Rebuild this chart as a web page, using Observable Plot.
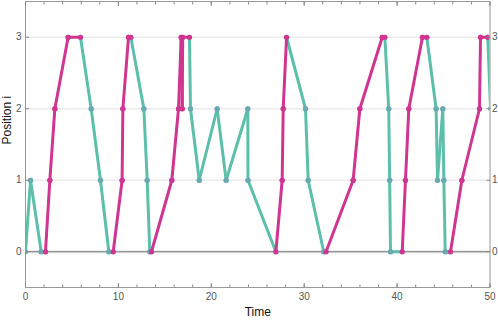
<!DOCTYPE html>
<html>
<head>
<meta charset="utf-8">
<script src="https://cdn.jsdelivr.net/npm/d3@7"></script>
<script src="https://cdn.jsdelivr.net/npm/@observablehq/plot@0.6"></script>
<style>
  html, body { margin: 0; padding: 0; background: #fff; }
  #chart svg { display: block; font-family: "Liberation Sans", Arial, sans-serif; }
</style>
</head>
<body>
<div id="chart"></div>
<script>
// Path of the walk: time, position, and the phase of the step leaving each point
const time = [0, 0.54, 1.69, 2.15, 2.62, 3.16, 4.59, 5.92, 7.07, 8.07,
  8.97, 9.44, 10.4, 10.48, 11.09, 11.34, 12.74, 13.1, 13.38, 13.56,
  15.75, 16.47, 16.76, 16.87, 16.92, 17.65, 17.76, 18.7, 20.63, 21.6,
  23.93, 23.95, 26.95, 27.63, 27.74, 28.1, 30.14, 30.43, 32.1, 32.35,
  35.27, 35.99, 38.4, 38.68, 39.1, 39.2, 39.29, 40.55, 40.9, 41.26,
  42.73, 43.2, 44.2, 44.35, 44.92, 45.03, 45.18, 45.75, 46.97, 48.87,
  48.98, 49.76, 50.06];
const position = [0, 1, 0, 0, 1, 2, 3, 3, 2, 1,
  0, 0, 1, 2, 3, 3, 2, 1, 0, 0,
  1, 2, 3, 2, 3, 3, 2, 1, 2, 1,
  2, 1, 0, 1, 2, 3, 2, 1, 0, 0,
  1, 2, 3, 3, 2, 1, 0, 0, 1, 2,
  3, 3, 2, 1, 2, 1, 0, 0, 1, 2,
  3, 3, 2];
const phase = ["fall", "fall", "fall", "rise", "rise", "rise", "rise", "fall", "fall", "fall",
  "fall", "rise", "rise", "rise", "rise", "fall", "fall", "fall", "fall", "rise",
  "rise", "rise", "rise", "rise", "rise", "fall", "fall", "fall", "fall", "fall",
  "fall", "fall", "rise", "rise", "rise", "fall", "fall", "fall", "fall", "rise",
  "rise", "rise", "rise", "fall", "fall", "fall", "fall", "rise", "rise", "rise",
  "rise", "fall", "fall", "fall", "fall", "fall", "fall", "rise", "rise", "rise",
  "rise", "fall", "fall"];

const xTicks = [0, 10, 20, 30, 40, 50];
const xMinor = d3.range(0, 51, 2);
const yTicks = [0, 1, 2, 3];

const colors = {rise: "#cf3591", fall: "#5cbfab"};
const dotColors = {rise: "#cf3591", fall: "#68aab0"};

const segments = d3.range(time.length - 1).map(i => ({
  t1: time[i], p1: position[i], t2: time[i + 1], p2: position[i + 1], phase: phase[i]
}));
const ends = (ph) => segments.filter(s => s.phase === ph)
  .flatMap(s => [{t: s.t1, p: s.p1}, {t: s.t2, p: s.p2}]);

const layer = (ph) => [
  Plot.link(segments.filter(s => s.phase === ph), {
    x1: "t1", y1: "p1", x2: "t2", y2: "p2",
    stroke: colors[ph], strokeWidth: 3, strokeLinecap: "round", strokeLinejoin: "round", clip: true
  }),
  Plot.dot(ends(ph), {x: "t", y: "p", r: 2.6, fill: dotColors[ph], stroke: "none", clip: true})
];

const tickStyle = {stroke: "#888", tickFormat: () => ""};
const fmt = d3.format("d");

const chart = Plot.plot({
  width: 498,
  height: 320,
  marginLeft: 25,
  marginRight: 8.5,
  marginTop: 1,
  marginBottom: 33,
  x: {domain: [0, 50]},
  y: {domain: [-0.5, 3.5]},
  style: {fontFamily: "Liberation Sans, Arial, sans-serif", fontSize: "10px", color: "#555"},
  marks: [
    Plot.ruleY([1, 2, 3], {stroke: "#ebebeb", strokeWidth: 1.5}),
    Plot.ruleY([0], {stroke: "#e8e8e8", strokeWidth: 3}),
    Plot.ruleY([0], {stroke: "#777", strokeWidth: 1}),
    ...layer("fall"),
    ...layer("rise"),
    Plot.frame({stroke: "#999"}),
    // bottom axis
    Plot.axisX({anchor: "bottom", ticks: xTicks, tickFormat: fmt, tickSize: 0, tickPadding: 5, label: null, fill: "#555", fontSize: 10}),
    Plot.axisX({anchor: "bottom", ticks: xTicks, tickSize: -4, label: null, ...tickStyle}),
    Plot.axisX({anchor: "bottom", ticks: xMinor, tickSize: -2.5, label: null, ...tickStyle}),
    // top axis (ticks only)
    Plot.axisX({anchor: "top", ticks: xTicks, tickSize: -4, label: null, ...tickStyle}),
    Plot.axisX({anchor: "top", ticks: xMinor, tickSize: -2.5, label: null, ...tickStyle}),
    // left & right axes
    Plot.axisY({anchor: "left", ticks: yTicks, tickFormat: fmt, tickSize: 0, tickPadding: 4, label: null, fill: "#555", fontSize: 10}),
    Plot.axisY({anchor: "left", ticks: yTicks, tickSize: -4, label: null, ...tickStyle}),
    Plot.axisY({anchor: "right", ticks: yTicks, tickFormat: fmt, tickSize: 0, tickPadding: 2, label: null, fill: "#555", fontSize: 10}),
    Plot.axisY({anchor: "right", ticks: yTicks, tickSize: -4, label: null, ...tickStyle}),
    // axis titles
    Plot.text(["Time"], {frameAnchor: "bottom", dy: 28, fill: "#111", fontSize: 12}),
    Plot.text(["Position i"], {frameAnchor: "left", rotate: -90, dx: -18, fill: "#111", fontSize: 12})
  ]
});
document.getElementById("chart").append(chart);
</script>
</body>
</html>
